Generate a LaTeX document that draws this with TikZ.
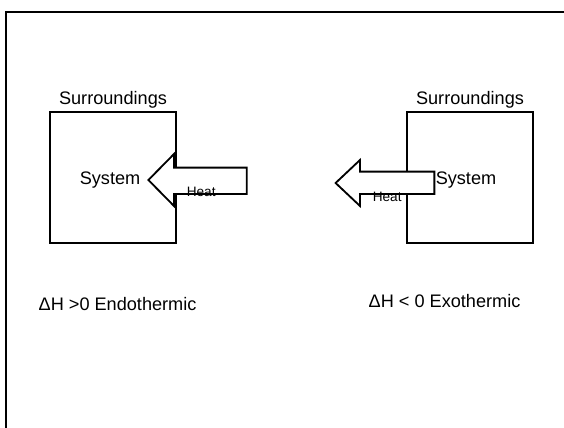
\documentclass[tikz,border=0pt]{standalone}
\usepackage{fontspec}
\setmainfont{Liberation Sans}
\begin{document}
\begin{tikzpicture}[
    lbl/.style={font=\fontsize{12.9}{15}\selectfont, inner sep=0pt},
    heatlbl/.style={font=\fontsize{9.7}{11}\selectfont, inner sep=0pt},
    sysbox/.style={draw, line width=1.3pt, minimum width=3.15cm, minimum height=3.275cm, inner sep=0pt},
    heatarrow/.style={draw, line width=1.3pt, fill=white, line join=miter}]
    \useasboundingbox (0,0) rectangle (14.1,10.7);

    % Frame
    \draw[line width=1.5pt] (0.15,0) -- (0.15,10.41) -- (14.1,10.41);

    % Boxes
    \node[sysbox] (boxL) at (2.825,6.2625) {};
    \node[sysbox] (boxR) at (11.75,6.2625) {};
    \node[lbl, anchor=south] (surrL) at ([yshift=1.5pt]boxL.north) {Surroundings};
    \node[lbl, anchor=south] (surrR) at ([yshift=1.5pt]boxR.north) {Surroundings};

    % Heat arrows (heat in, heat out)
    \draw[heatarrow] (6.17,6.51) -- (4.35,6.51) -- (4.35,6.85) -- (3.71,6.2)
        -- (4.35,5.55) -- (4.35,5.85) -- (6.17,5.85) -- cycle;
    \draw[heatarrow] (10.86,6.41) -- (9.0,6.41) -- (9.0,6.7) -- (8.39,6.125)
        -- (9.0,5.55) -- (9.0,5.85) -- (10.86,5.85) -- cycle;

    % Labels
    \node[lbl] (sysL) at (2.75,6.2) {System};
    \node[lbl] (sysR) at (11.65,6.2) {System};
    \node[heatlbl] (heatL) at (5.03,5.91) {Heat};
    \node[heatlbl] (heatR) at (9.68,5.77) {Heat};
    \node[lbl, anchor=west] (endo) at (0.96,3.1) {ΔH >0 Endothermic};
    \node[lbl, anchor=west] (exo) at (9.21,3.18) {ΔH < 0 Exothermic};

\end{tikzpicture}
\end{document}
